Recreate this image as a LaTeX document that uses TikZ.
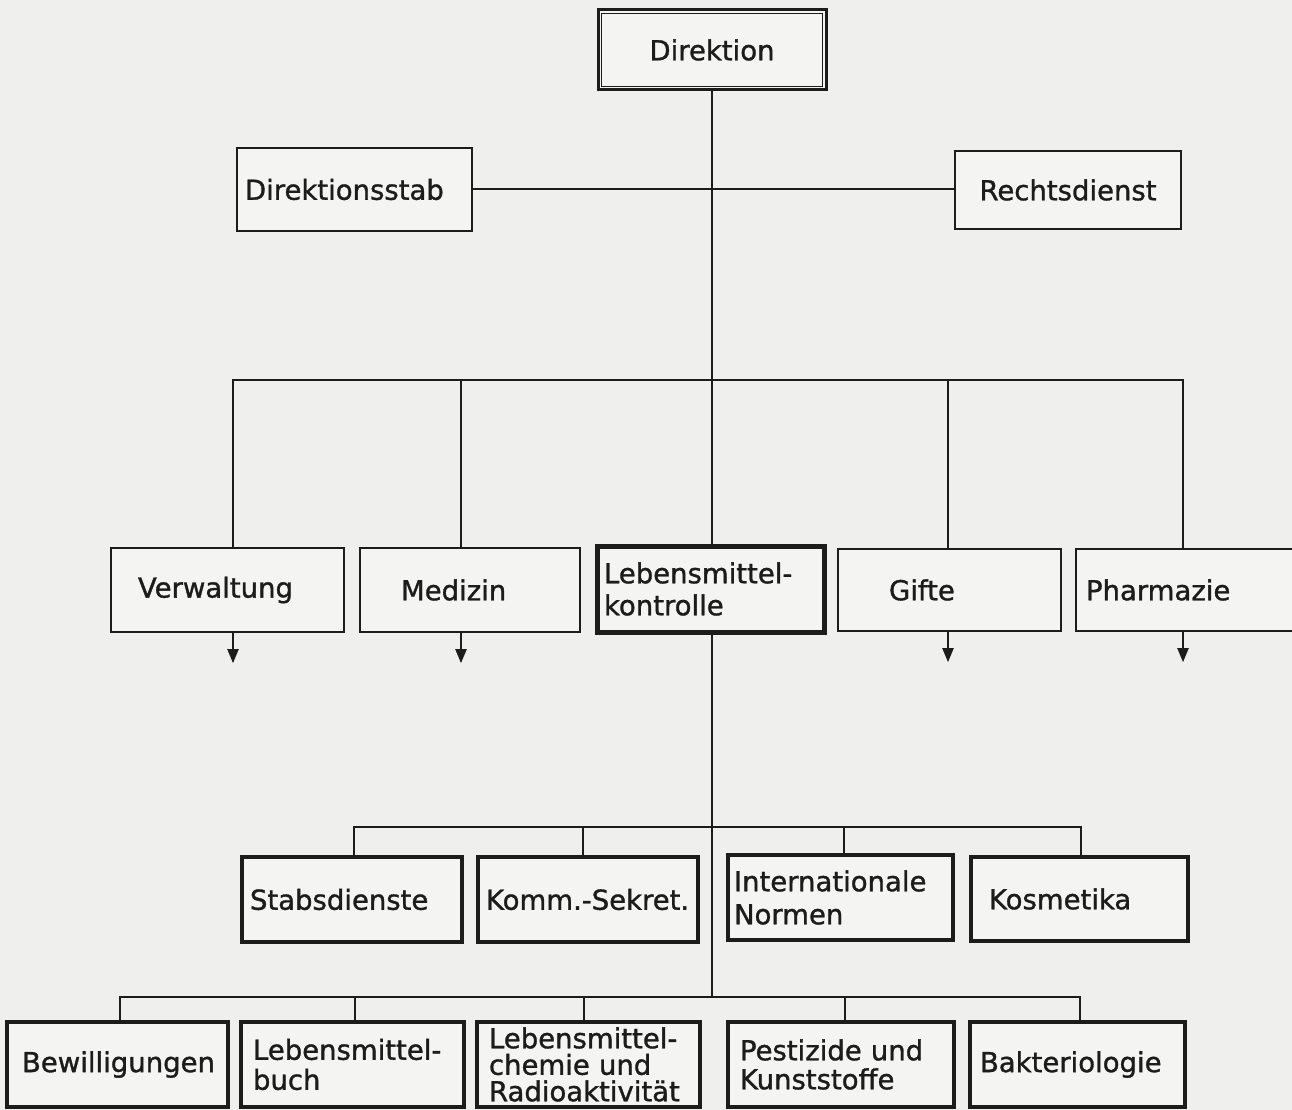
\documentclass[tikz,border=0pt]{standalone}
\usepackage{fontspec}
\setmainfont[FakeBold=1.2]{DejaVu Sans}
\usetikzlibrary{arrows.meta}
\definecolor{paper}{HTML}{EFEFED}
\definecolor{boxfill}{HTML}{F4F4F2}
\definecolor{ink}{HTML}{1C1C1C}
\begin{document}
\begin{tikzpicture}[x=1pt,y=-1pt,
  box/.style={draw=ink, line width=2.4pt, fill=boxfill, inner ysep=0pt, inner xsep=0pt,
    font=\fontsize{27.5}{32}\selectfont, text=ink},
  lbox/.style={align=left, text width=#1},
  midbox/.style={box, line width=3.6pt},
  lowbox/.style={box, line width=4.2pt},
  conn/.style={draw=ink, line width=2pt},
  arr/.style={conn, -{Triangle[length=14pt,width=11pt]}}
]
\useasboundingbox (0,0) rectangle (1292,1110);
\fill[paper] (0,0) rectangle (1292,1110);
\begin{scope}
\clip (0,0) rectangle (1292,1110);

% top level
\node[box, line width=3pt, minimum width=228pt, minimum height=80pt] (dir) at (712,50) {Direktion};
\draw[ink, line width=1.5pt] ([shift={(5,5)}]dir.north west) rectangle ([shift={(-5,-5)}]dir.south east);

\node[box, minimum width=235pt, minimum height=83pt, inner xsep=8pt, lbox=219pt] (dst) at (354.5,189.5) {Direktionsstab};
\node[box, minimum width=226pt, minimum height=78pt] (rd) at (1068,190) {Rechtsdienst};

% second level
\node[box, minimum width=233pt, minimum height=84pt, inner xsep=27pt, lbox=179pt] (verw) at (227.5,590) {Verwaltung};
\node[box, minimum width=220pt, minimum height=84pt, inner xsep=41pt, lbox=138pt] (med) at (470,590) {Medizin};
\node[box, line width=5pt, minimum width=227pt, minimum height=86pt, inner xsep=7pt, lbox=213pt] (lmk) at (710.5,589) {Lebensmittel-\\kontrolle};
\node[box, minimum width=223pt, minimum height=82pt, inner xsep=51pt, lbox=121pt] (gif) at (949.5,590) {Gifte};
\node[box, minimum width=228pt, minimum height=82pt, inner xsep=10pt, lbox=208pt] (pha) at (1190,590) {Pharmazie};

% third level
\node[midbox, minimum width=220pt, minimum height=85pt, inner xsep=8pt, lbox=204pt] (stab) at (352,899.5) {Stabsdienste};
\node[midbox, minimum width=220pt, minimum height=85pt, inner xsep=8pt, lbox=204pt] (komm) at (588,899.5) {Komm.-Sekret.};
\node[midbox, minimum width=225pt, minimum height=85pt, inner xsep=6pt, lbox=213pt,
  font=\fontsize{27.5}{33}\selectfont] (intn) at (840.5,897.5) {Internationale\\Normen};
\node[midbox, minimum width=217pt, minimum height=84pt, inner xsep=18pt, lbox=181pt] (kos) at (1079.5,899) {Kosmetika};

% fourth level
\node[lowbox, minimum width=221pt, minimum height=85pt, inner xsep=15pt, lbox=191pt] (bew) at (117.5,1064.5) {Bewilligungen};
\node[lowbox, minimum width=223pt, minimum height=85pt, inner xsep=12pt, lbox=199pt,
  font=\fontsize{27.5}{30}\selectfont] (lmb) at (352.5,1064.5) {Lebensmittel-\\buch};
\node[lowbox, minimum width=223pt, minimum height=85pt, inner xsep=12pt, lbox=199pt,
  font=\fontsize{27.5}{26.5}\selectfont] (lmc) at (588.5,1064.5) {Lebensmittel-\\chemie und\\Radioaktivität};
\node[lowbox, minimum width=226pt, minimum height=85pt, inner xsep=12pt, lbox=202pt,
  font=\fontsize{27.5}{29}\selectfont] (pest) at (841,1064.5) {Pestizide und\\Kunststoffe};
\node[lowbox, minimum width=215pt, minimum height=85pt, inner xsep=10pt, lbox=195pt] (bak) at (1077.5,1064.5) {Bakteriologie};

% junction coordinates
\coordinate (j1) at (233,380);
\coordinate (j2) at (461,380);
\coordinate (j4) at (948,380);
\coordinate (j5) at (1183,380);
\coordinate (k1) at (354,827);
\coordinate (k2) at (583,827);
\coordinate (k3) at (844,827);
\coordinate (k4) at (1081,827);
\coordinate (m1) at (120,997);
\coordinate (m2) at (355,997);
\coordinate (m3) at (584,997);
\coordinate (m4) at (845,997);
\coordinate (m5) at (1080,997);

% connectors
\draw[conn] (dir.south) -- (dir.south |- lmk.north);
\draw[conn] (dst.east) -- (rd.west |- dst.east);
\draw[conn] (j1 |- verw.north) -- (j1) -- (j5) -- (j5 |- pha.north);
\draw[conn] (j2) -- (j2 |- med.north);
\draw[conn] (j4) -- (j4 |- gif.north);

\draw[arr] (j1 |- verw.south) -- ++(0,30);
\draw[arr] (j2 |- med.south) -- ++(0,30);
\draw[arr] (j4 |- gif.south) -- ++(0,30);
\draw[arr] (j5 |- pha.south) -- ++(0,30);

\draw[conn] (dir.south |- lmk.south) -- (dir.south |- m1);
\draw[conn] (k1 |- stab.north) -- (k1) -- (k4) -- (k4 |- kos.north);
\draw[conn] (k2) -- (k2 |- komm.north);
\draw[conn] (k3) -- (k3 |- intn.north);

\draw[conn] (m1 |- bew.north) -- (m1) -- (m5) -- (m5 |- bak.north);
\draw[conn] (m2) -- (m2 |- lmb.north);
\draw[conn] (m3) -- (m3 |- lmc.north);
\draw[conn] (m4) -- (m4 |- pest.north);
\end{scope}
\end{tikzpicture}
\end{document}
